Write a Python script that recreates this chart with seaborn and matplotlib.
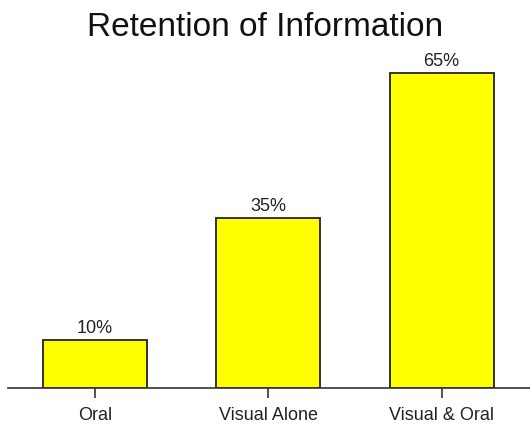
import matplotlib
matplotlib.use("Agg")
import matplotlib.pyplot as plt
import seaborn as sns
import pandas as pd

categories = ["Oral", "Visual Alone", "Visual & Oral"]
values = [10, 35, 65]
value_labels = ["10%", "35%", "65%"]

sns.set_style("white")
plt.rcParams['font.family'] = ['Liberation Sans', 'DejaVu Sans']

df = pd.DataFrame({"method": categories, "retention": values})

fig = plt.figure(figsize=(5.3, 4.26), dpi=100)
ax = fig.add_axes([8/530, 38/426, 522/530, (388-48.5)/426])
sns.barplot(data=df, x="method", y="retention", color="#FFFF00", saturation=1,
            edgecolor="#222222", linewidth=1.3, width=0.6, ax=ax)
ax.set_xlim(-0.5, 2.51)
ax.set_ylim(0, 70)
for s in ["top", "left", "right"]:
    ax.spines[s].set_visible(False)
ax.spines["bottom"].set_color("#333333")
ax.spines["bottom"].set_linewidth(1.2)
ax.set_yticks([])
ax.set_xlabel("")
ax.set_ylabel("")
ax.tick_params(axis="x", bottom=True, length=7, width=1.2, color="#333333",
               pad=7, labelsize=13, labelcolor="#222222")
ax.bar_label(ax.containers[0], labels=value_labels, padding=2, fontsize=13,
             color="#222222")
fig.text(0.5, 1 - 27/426, "Retention of Information", ha="center", va="center",
         fontsize=24, color="#111111")
fig.savefig("out.png", dpi=100)
